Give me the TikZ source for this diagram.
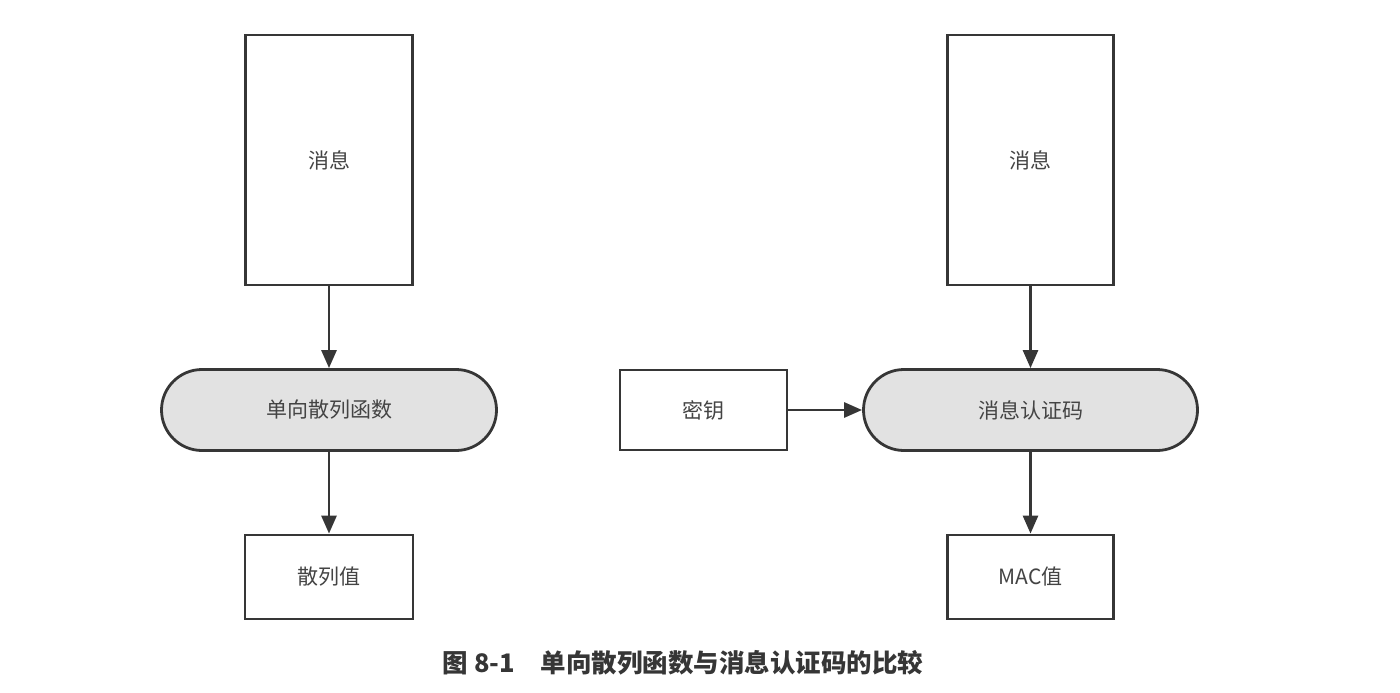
\documentclass[tikz,border=0pt]{standalone}
\usepackage{fontspec}
\setmainfont{Noto Sans CJK SC}
\newfontfamily\cjk{Noto Sans CJK SC}
\usetikzlibrary{shapes.misc,arrows.meta}
\definecolor{linec}{HTML}{363636}
\definecolor{textc}{HTML}{444444}
\definecolor{pillfill}{HTML}{E2E2E2}
\tikzset{
  boxnode/.style={draw=linec, line width=2.8pt, fill=white, rectangle, inner sep=0pt, text=textc, font=\cjk\fontsize{21}{24}\selectfont},
  pillnode/.style={draw=linec, line width=2.8pt, fill=pillfill, rounded rectangle, rounded rectangle arc length=180, inner sep=0pt, text=textc, font=\cjk\fontsize{21}{24}\selectfont},
  flow/.style={draw=linec, line width=2.8pt, -{Triangle[length=18pt,width=15pt]}},
  captionnode/.style={text=linec, font=\cjk\bfseries\fontsize{25.5}{30}\selectfont}
}
\begin{document}
\begin{tikzpicture}[x=1pt,y=-1pt]
\useasboundingbox (0,0) rectangle (1400,693);
\node[boxnode, minimum width=167pt, minimum height=250pt] (msgL) at (329,160) {消息};
\node[boxnode, minimum width=166pt, minimum height=250pt] (msgR) at (1030.5,160) {消息};
\node[pillnode, minimum width=335pt, minimum height=81pt] (hashfn) at (329,410) {单向散列函数};
\node[pillnode, minimum width=334pt, minimum height=81pt] (mac) at (1030.5,410) {消息认证码};
\node[boxnode, minimum width=167pt, minimum height=80pt] (key) at (703.5,410) {密钥};
\node[boxnode, minimum width=168pt, minimum height=84pt] (hashval) at (329,577) {散列值};
\node[boxnode, minimum width=166pt, minimum height=84pt] (macval) at (1030.5,577) {MAC值};
\node[captionnode] (cap) at (683,663) {图 8-1\hspace{1em}单向散列函数与消息认证码的比较};
\draw[flow] (msgL.south) -- (hashfn.north);
\draw[flow] (hashfn.south) -- (hashval.north);
\draw[flow] (msgR.south) -- (mac.north);
\draw[flow] (mac.south) -- (macval.north);
\draw[flow] (key.east) -- (mac.west);
\end{tikzpicture}
\end{document}
